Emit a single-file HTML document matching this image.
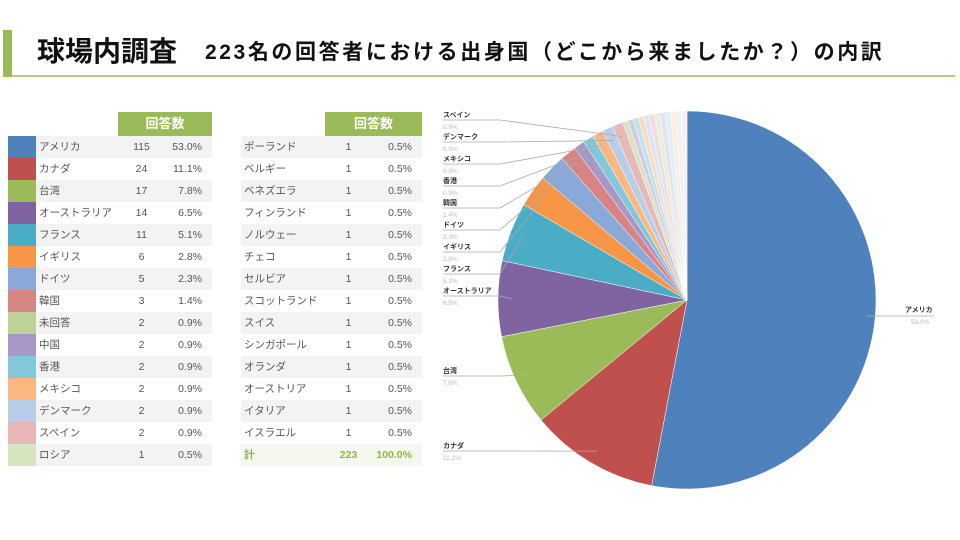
<!DOCTYPE html>
<html><head><meta charset="utf-8"><style>
body{margin:0;width:960px;height:540px;background:#fff;position:relative;overflow:hidden;font-family:"Liberation Sans","Noto Sans CJK JP",sans-serif;}
.bar{position:absolute;left:3px;top:30px;width:9px;height:47px;background:#9bbb59}
.ul{position:absolute;left:12px;top:75px;width:943px;height:2px;background:#b5cf85}
.t1{position:absolute;left:37px;top:34px;font-size:28px;font-weight:bold;color:#111;line-height:36px}
.t2{position:absolute;left:205px;top:39px;font-size:21px;letter-spacing:2.6px;font-weight:bold;color:#111;line-height:28px;white-space:nowrap}
table{position:absolute;border-collapse:collapse;font-size:10.5px;color:#555}
td{height:22px;padding:0;line-height:22px}
.h{background:#9bbb59;color:#fff;font-weight:bold;font-size:13px;text-align:center;height:24px}
tr.g td.c{background:#f3f3f3}
.n{padding-left:3px}
.num{text-align:center}
.p{text-align:right;padding-right:10px}
.tot td{background:#f5f8ee;color:#8fb64a;font-weight:bold}
</style></head><body>
<div class="bar"></div><div class="ul"></div>
<div class="t1">球場内調査</div>
<div class="t2">223名の回答者における出身国（どこから来ましたか？）の内訳</div>
<table style="left:8px;top:112px">
<colgroup><col style="width:28px"><col style="width:82px"><col style="width:47px"><col style="width:47px"></colgroup>
<tr><td></td><td></td><td class="h" colspan="2">回答数</td></tr>
<tbody id="lt"></tbody></table>
<table style="left:241px;top:112px">
<colgroup><col style="width:84px"><col style="width:47px"><col style="width:50px"></colgroup>
<tr><td></td><td class="h" colspan="2">回答数</td></tr>
<tbody id="rt"></tbody></table>
<svg id="pie" width="960" height="540" style="position:absolute;left:0;top:0"></svg>
<script>
var L=[["アメリカ",115,"53.0%","#4f81bd"],["カナダ",24,"11.1%","#c0504d"],["台湾",17,"7.8%","#9bbb59"],["オーストラリア",14,"6.5%","#8064a2"],["フランス",11,"5.1%","#4bacc6"],["イギリス",6,"2.8%","#f79646"],["ドイツ",5,"2.3%","#8aa8d8"],["韓国",3,"1.4%","#d68584"],["未回答",2,"0.9%","#bcd296"],["中国",2,"0.9%","#a898c6"],["香港",2,"0.9%","#82c8da"],["メキシコ",2,"0.9%","#fab880"],["デンマーク",2,"0.9%","#b8cde9"],["スペイン",2,"0.9%","#e8b7b7"],["ロシア",1,"0.5%","#d6e4bf"]];
var R=["ポーランド","ベルギー","ベネズエラ","フィンランド","ノルウェー","チェコ","セルビア","スコットランド","スイス","シンガポール","オランダ","オーストリア","イタリア","イスラエル","アイルランド"];
var pale=["#d3cbe3","#c1e3ec","#fcdcc0","#dbe6f4","#f3dbdb","#e8f0dc","#e6e1ef","#e0f1f5","#fdeddf","#edf2f9","#f9eded"];
var h="";L.forEach(function(r,i){var c=i%2==0?"g":"";h+='<tr class="'+c+'"><td style="background:'+r[3]+'"></td><td class="c n">'+r[0]+'</td><td class="c num">'+r[1]+'</td><td class="c p">'+r[2]+'</td></tr>';});
document.getElementById("lt").innerHTML=h;
h="";R.slice(0,14).forEach(function(r,i){var c=i%2==0?"g":"";h+='<tr class="'+c+'"><td class="c n">'+r+'</td><td class="c num">1</td><td class="c p">0.5%</td></tr>';});
h+='<tr class="tot"><td class="n">計</td><td class="num">223</td><td class="p">100.0%</td></tr>';
document.getElementById("rt").innerHTML=h;
var s=[];L.forEach(function(r,i){if(i!=8)s.push([r[1],r[3]]);});for(var i=0;i<pale.length;i++)s.push([1,pale[i]]);
var T=0;s.forEach(function(v){T+=v[0];});
var cx=687,cy=300,rr=189,a=0,svg="",mids=[];
s.forEach(function(v){var a2=a+v[0]/T*2*Math.PI;var x1=cx+rr*Math.sin(a),y1=cy-rr*Math.cos(a),x2=cx+rr*Math.sin(a2),y2=cy-rr*Math.cos(a2);
svg+='<path d="M'+cx+','+cy+'L'+x1+','+y1+'A'+rr+','+rr+' 0 '+((a2-a)>Math.PI?1:0)+' 1 '+x2+','+y2+'Z" fill="'+v[1]+'" stroke="#fff" stroke-width="0.5"/>';mids.push((a+a2)/2);a=a2;});
var labs=[[12,"スペイン","0.9%",114],[11,"デンマーク","0.9%",136],[10,"メキシコ","0.9%",158],[9,"香港","0.9%",180],[7,"韓国","1.4%",202],[6,"ドイツ","2.3%",224],[5,"イギリス","2.8%",246],[4,"フランス","5.1%",268],[3,"オーストラリア","6.5%",290],[2,"台湾","7.8%",370],[1,"カナダ","11.1%",445]];
labs.forEach(function(l){var m=mids[l[0]],px=cx+rr*0.93*Math.sin(m),py=cy-rr*0.93*Math.cos(m),ly=l[3]+6;
svg+='<polyline points="443,'+ly+' 500,'+ly+' '+px+','+py+'" fill="none" stroke="#aaa" stroke-width="0.8"/>';
svg+='<text x="443" y="'+(l[3]+3)+'" font-size="7" font-weight="bold" fill="#333">'+l[1]+'</text><text x="443" y="'+(l[3]+15)+'" font-size="6.5" fill="#bbb">'+l[2]+'</text>';});
svg+='<polyline points="866,316 934,316" fill="none" stroke="#aaa" stroke-width="0.8"/><text x="905" y="312" font-size="7" font-weight="bold" fill="#333">アメリカ</text><text x="911" y="324" font-size="6.5" fill="#bbb">53.0%</text>';
document.getElementById("pie").innerHTML=svg;
</script>
</body></html>
